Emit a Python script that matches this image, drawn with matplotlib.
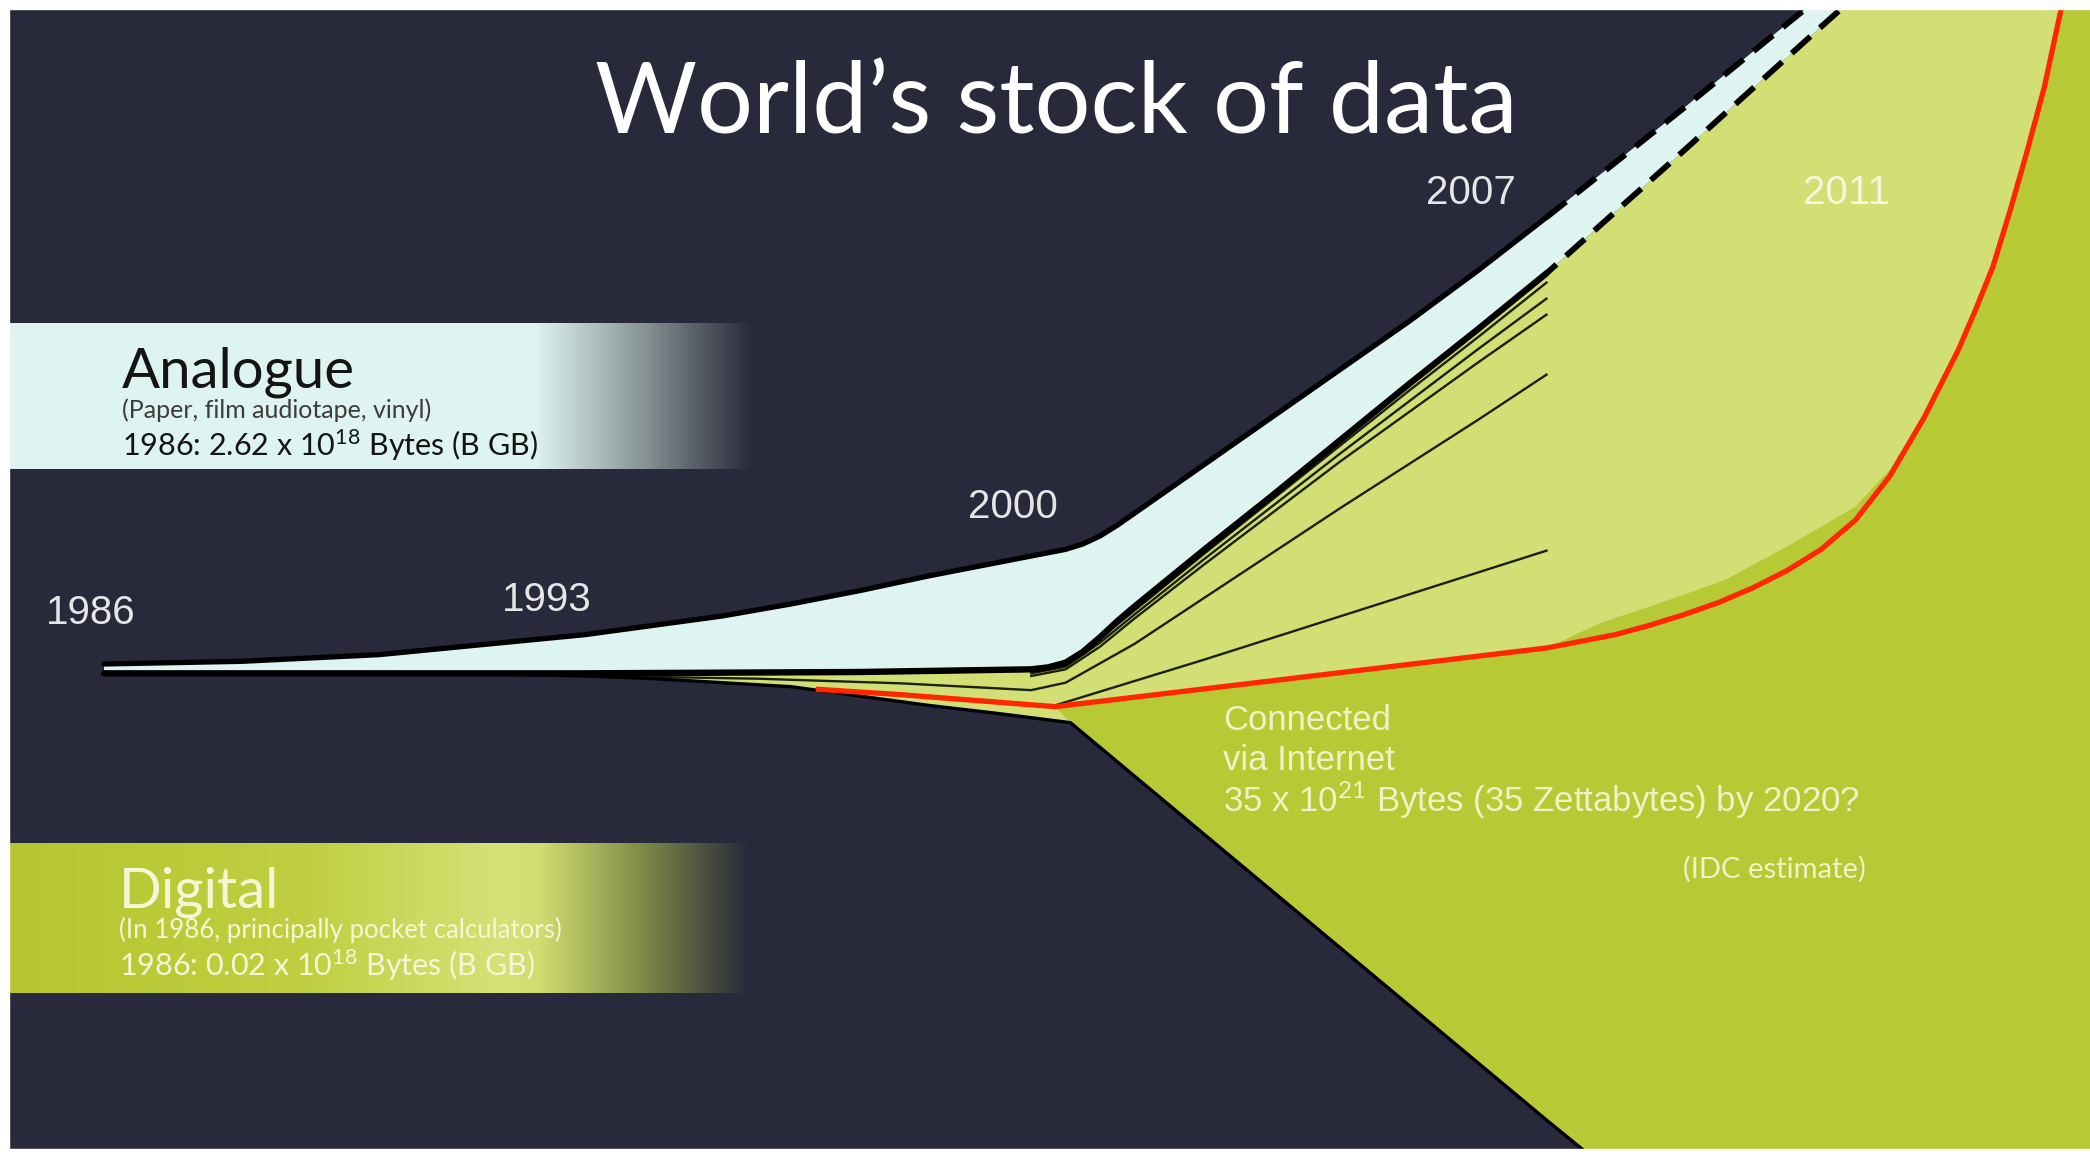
import numpy as np
import matplotlib
matplotlib.use("Agg")
import matplotlib.pyplot as plt
from matplotlib.colors import to_rgb
from matplotlib.patches import Rectangle

plt.rcParams['mathtext.fontset'] = 'custom'
plt.rcParams['mathtext.rm'] = 'Lato'
plt.rcParams['mathtext.it'] = 'Lato:italic'
plt.rcParams['mathtext.bf'] = 'Lato:bold'

W, H = 2090, 1152
BG = '#28293a'
CYAN = '#def4f1'
LIGHT = '#d1df74'
DARK = '#b7c935'
RED = '#ff2600'

# x = year, y = height of the boundary above the 1986 line (relative units)
top_years = [1986, 1988, 1990, 1991, 1992, 1993, 1994, 1995, 1996, 1997, 1998, 1998.5,
             1999, 1999.5, 2000, 2000.25, 2000.5, 2000.75, 2001, 2002, 2003, 2004, 2005,
             2006, 2007]
top_vals = [7, 9, 14, 19, 24, 29, 36, 43, 52, 62, 73, 78,
            83, 88, 93, 97, 103, 111, 120, 156, 192, 228, 264, 302, 342]

analog_bot_years = [1986, 1993, 1997, 1999.5, 1999.75, 2000, 2000.25, 2000.5, 2000.75,
                    2001, 2002, 2003, 2004, 2005, 2006, 2007]
analog_bot_vals = [0, 0, 1, 3, 4.5, 8, 16, 27, 39, 50, 92, 133, 175, 217, 258, 300]

# dashed projections after 2007
upper_dash_years = [2007, 2009, 2011, 2011.5]
upper_dash_vals = [342, 424, 508, 529]
lower_dash_years = [2007, 2009, 2011, 2012]
lower_dash_vals = [300, 392, 485, 531]

digital_bot_years = [1986, 1991, 1993, 1994, 1995, 1996, 1997, 1998, 1999, 2000.07, 2007, 2008]
digital_bot_vals = [0, 0, -2, -4, -7, -10, -17, -24, -30, -37, -335, -377]

# "connected via internet" line
red_years = [1996.4, 1997.6, 1999.85, 2007, 2007.5, 2008, 2008.5, 2009, 2009.5, 2010,
             2010.5, 2011, 2011.5, 2012, 2012.5, 2013, 2013.25, 2013.5, 2013.75, 2014,
             2014.25, 2014.5]
red_vals = [-12, -16, -25, 19, 24, 29, 36, 44, 53, 64,
            77, 93, 115, 148, 192, 243, 273, 305, 347, 392, 440, 500]

# lower edge of the pale 2011 area
edge_years = [1999.85, 2007, 2007.8, 2008.5, 2009, 2009.6, 2010.5, 2011.5, 2012,
              2012.5, 2013, 2013.25, 2013.5, 2013.75, 2014, 2014.25, 2014.5]
edge_vals = [-25, 19, 38, 50, 59, 70, 95, 125, 153, 194, 243, 273, 305, 347, 392, 440, 500]

# thin lines splitting the digital band
sub_years = [1999.5, 2000, 2000.5, 2001, 2002, 2003, 2004, 2005, 2006, 2007]
sub1_vals = [2, 7, 26, 47, 89, 130, 171, 212, 252, 293]
sub2_vals = [0, 5, 23, 44, 85, 125, 165, 204, 243, 281]
sub3_vals = [-2, 3, 20, 41, 81, 120, 159, 196, 233, 269]
sub4_years = [1992, 1995.5, 1997.6, 1999.5, 2000, 2001, 2002, 2003, 2004, 2005, 2006, 2007]
sub4_vals = [-1, -4, -7.5, -12.6, -7, 22, 56, 90, 124, 157, 190, 224]
sub5_years = [1999.85, 2002, 2007]
sub5_vals = [-24, 10, 92]

year_labels = ['1986', '1993', '2000', '2007', '2011']
label_x = [1985.8, 1992.44, 1999.24, 2005.9, 2011.37]
label_y = [45, 55, 125, 360, 360]


fig = plt.figure(figsize=(W / 100, H / 100), dpi=100)
fig.patch.set_facecolor('white')
ax = fig.add_axes([0, 0, 1, 1])
ax.set_facecolor(BG)
ax.set_xlim(1984.486, 2014.913)
ax.set_ylim(-359, 505)
ax.axis('off')
ax.add_patch(Rectangle((0, 0), 1, 1, transform=ax.transAxes, color=BG, zorder=0))

# pale green: everything digital below the analogue band
lx = analog_bot_years + lower_dash_years + [2016, 2016] + digital_bot_years[::-1]
ly = analog_bot_vals + lower_dash_vals + [600, -500] + digital_bot_vals[::-1]
ax.fill(lx, ly, color=LIGHT, lw=0, zorder=1)

# darker green below the internet line
k = digital_bot_years.index(2000.07)
dx = edge_years + [2016, 2016] + digital_bot_years[k:][::-1]
dy = edge_vals + [600, -500] + digital_bot_vals[k:][::-1]
ax.fill(dx, dy, color=DARK, lw=0, zorder=1.1)

# analogue band
cx = top_years + upper_dash_years + lower_dash_years[::-1] + analog_bot_years[::-1]
cy = top_vals + upper_dash_vals + lower_dash_vals[::-1] + analog_bot_vals[::-1]
ax.fill(cx, cy, color=CYAN, lw=0, zorder=1.2)

for vals in [sub1_vals, sub2_vals, sub3_vals]:
    ax.plot(sub_years, vals, color='#1c2010', lw=1.7, zorder=2)
ax.plot(sub4_years, sub4_vals, color='#1c2010', lw=1.7, zorder=2)
ax.plot(sub5_years, sub5_vals, color='#1c2010', lw=1.7, zorder=2)

ax.plot(digital_bot_years, digital_bot_vals, color='black', lw=2.4, zorder=2.2,
        solid_capstyle='butt')
ax.plot(top_years, top_vals, color='black', lw=3.8, zorder=2.4, solid_capstyle='round')
ax.plot(analog_bot_years, analog_bot_vals, color='black', lw=4.6, zorder=2.4,
        solid_capstyle='round')
ax.plot(upper_dash_years, upper_dash_vals, color='black', lw=4.2, ls=(0, (4.3, 2.2)), zorder=2.4)
ax.plot(lower_dash_years, lower_dash_vals, color='black', lw=4.2, ls=(2, (4.3, 2.2)), zorder=2.4)

ax.plot(red_years, red_vals, color=RED, lw=3.8, zorder=3, solid_joinstyle='round')

for txt, x, y in zip(year_labels, label_x, label_y):
    col = '#f4f7dc' if txt == '2011' else '#e6e6e6'
    ax.text(x, y, txt, ha='center', va='center', fontsize=29, color=col,
            family='Liberation Sans', zorder=4)

# overlay in pixel coordinates for the legend boxes and captions
deco = fig.add_axes([0, 0, 1, 1])
deco.patch.set_alpha(0)
deco.axis('off')


def band(stops, x0, x1):
    xs = np.arange(x0, x1)
    pos = [s[0] for s in stops]
    cols = np.array([to_rgb(s[1]) for s in stops])
    img = np.stack([np.interp(xs, pos, cols[:, c]) for c in range(3)], axis=-1)
    return img[None, :, :]


deco.imshow(band([(9, CYAN), (535, CYAN), (640, '#8a9697'), (752, BG)], 9, 760),
            extent=(9, 760, 469, 323), aspect='auto', interpolation='bilinear')
deco.imshow(band([(9, '#b5c630'), (300, '#bfcf40'), (500, '#d4e277'), (540, '#d0dd70'),
                  (640, '#808c48'), (748, BG)], 9, 760),
            extent=(9, 760, 993, 843), aspect='auto', interpolation='bilinear')
deco.set_xlim(0, W)
deco.set_ylim(H, 0)

deco.text(1056, 133, 'World’s stock of data', ha='center', va='baseline',
          fontsize=71, color='white', family='Lato')

deco.text(122, 387, 'Analogue', va='baseline', fontsize=40.5, color='#141414', family='Lato')
deco.text(122, 418, '(Paper, film audiotape, vinyl)', va='baseline', fontsize=18,
          color='#3c3c3c', family='Lato')
deco.text(122, 456, r'1986: 2.62 x 10$^{18}$ Bytes (B GB)', va='baseline', fontsize=22,
          color='#141414', family='Lato')

cream = '#f3f7d6'
deco.text(119, 907, 'Digital', va='baseline', fontsize=40.5, color=cream, family='Lato')
deco.text(119, 938, '(In 1986, principally pocket calculators)', va='baseline', fontsize=18.5,
          color=cream, family='Lato')
deco.text(119, 976, r'1986: 0.02 x 10$^{18}$ Bytes (B GB)', va='baseline', fontsize=22,
          color=cream, family='Lato')

note = '#eef3c6'
deco.text(1223, 730, 'Connected', va='baseline', fontsize=25, color=note, family='Liberation Sans')
deco.text(1223, 770, 'via Internet', va='baseline', fontsize=25, color=note, family='Liberation Sans')
deco.text(1223, 812, r'35 x 10$^{21}$ Bytes (35 Zettabytes) by 2020?', va='baseline',
          fontsize=25, color=note, family='Liberation Sans')
deco.text(1683, 878, '(IDC estimate)', va='baseline', fontsize=21, color=note, family='Lato')

# white frame of the screenshot
for r in [(0, 1 - 9 / H, 1, 9 / H), (0, 0, 9 / W, 1), (0, 0, 1, 3 / H)]:
    fig.add_artist(Rectangle(r[:2], r[2], r[3], transform=fig.transFigure,
                             color='white', zorder=10))

fig.savefig('out.png', dpi=100, facecolor='white')
